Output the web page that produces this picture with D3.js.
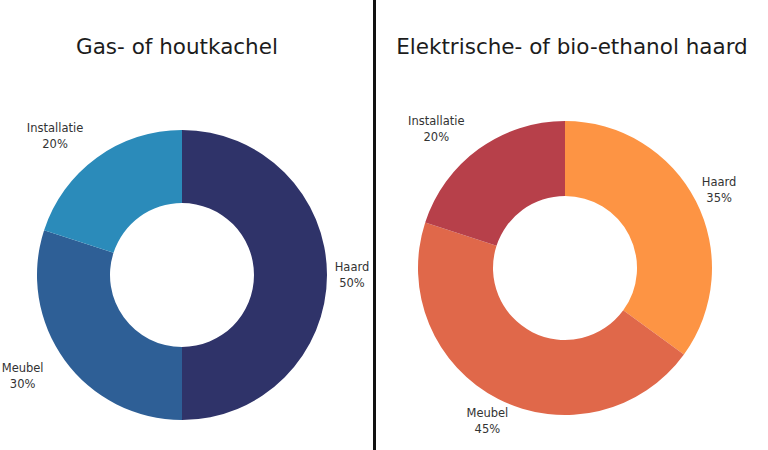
<!DOCTYPE html>
<html><head><meta charset="utf-8">
<script src="https://cdn.jsdelivr.net/npm/d3@7/dist/d3.min.js"></script>
<style>body{margin:0;background:#fff}svg{display:block}</style>
</head><body><svg id="c" width="768" height="450"></svg>
<script>
const categories = ["Haard", "Meubel", "Installatie"];
const leftTitle = "Gas- of houtkachel";
const leftValues = [50, 30, 20];
const rightTitle = "Elektrische- of bio-ethanol haard";
const rightValues = [35, 45, 20];
const leftColors = ["#2f3369", "#2e5f96", "#2b8bba"];
const rightColors = ["#fd9444", "#e0684a", "#b7404a"];

const svg = d3.select("#c");
const font = "DejaVu Sans, sans-serif";

svg.append("line").attr("x1", 374.5).attr("x2", 374.5).attr("y1", 0).attr("y2", 450)
  .attr("stroke", "#111").attr("stroke-width", 3);

function donut(cx, cy, rOuter, rInner, title, titleX, values, colors, rx) {
  const g = svg.append("g").attr("transform", `translate(${cx},${cy})`);
  const data = categories.map((c, i) => ({cat: c, value: values[i], color: colors[i]}));
  const pie = d3.pie().value(d => d.value).sort(null);
  const arcs = pie(data);
  const arc = d3.arc().innerRadius(rInner).outerRadius(rOuter);
  g.selectAll("path").data(arcs).join("path")
    .attr("d", arc).attr("fill", d => d.data.color);
  const ry = 172;
  arcs.forEach((a, i) => {
    const mid = (a.startAngle + a.endAngle) / 2;
    const x = Math.sin(mid) * rx[i];
    const y = -Math.cos(mid) * ry;
    const t = g.append("text").attr("text-anchor", "middle")
      .attr("font-family", font).attr("font-size", 11.5).attr("fill", "#333");
    t.append("tspan").attr("x", x).attr("y", y - 4).text(a.data.cat);
    t.append("tspan").attr("x", x).attr("y", y + 12).text(d3.format(".0%")(a.data.value / 100));
  });
  svg.append("text").attr("x", titleX).attr("y", 54).attr("text-anchor", "middle")
    .attr("font-family", font).attr("font-size", 21.5).attr("fill", "#1c1c1c").text(title);
}

donut(182, 275, 145, 72, leftTitle, 177, leftValues, leftColors, [170, 197, 216]);
donut(565, 268, 147, 72, rightTitle, 572, rightValues, rightColors, [173, 171, 219]);
</script></body></html>
